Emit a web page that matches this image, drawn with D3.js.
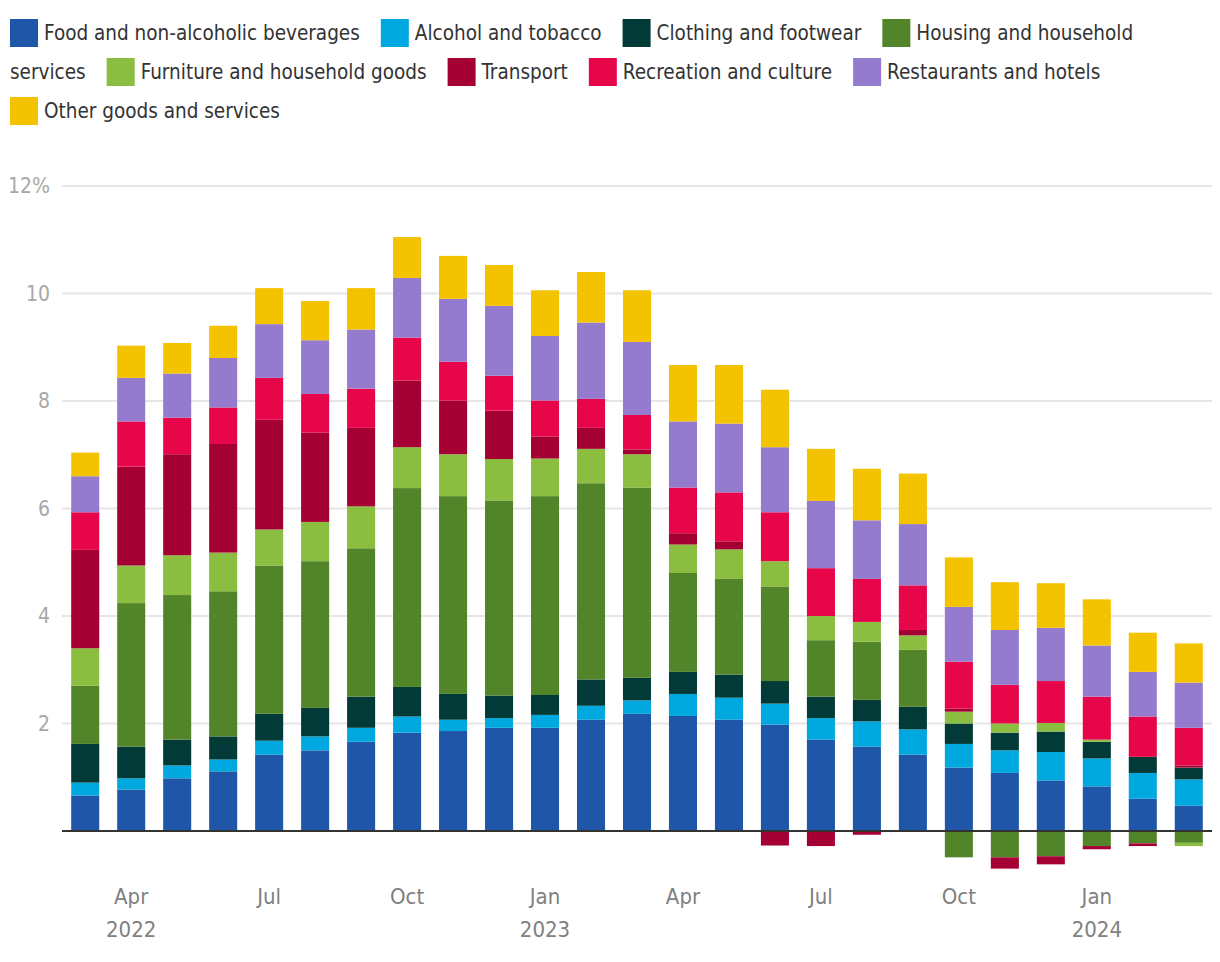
<!DOCTYPE html>
<html>
<head>
<meta charset="utf-8">
<script src="https://cdn.jsdelivr.net/npm/d3@7"></script>
<style>
  html, body { margin: 0; padding: 0; background: #fff; }
  body { width: 1220px; height: 962px; overflow: hidden; }
  svg { display: block; font-family: "Liberation Sans Narrow", "DejaVu Sans Condensed", "Roboto", sans-serif; }
</style>
</head>
<body>
<svg id="chart" width="1220" height="962"></svg>
<script>
const months = ["2022-03","2022-04","2022-05","2022-06","2022-07","2022-08","2022-09","2022-10","2022-11","2022-12",
                "2023-01","2023-02","2023-03","2023-04","2023-05","2023-06","2023-07","2023-08","2023-09","2023-10",
                "2023-11","2023-12","2024-01","2024-02","2024-03"];

const seriesNames = ["Food and non-alcoholic beverages","Alcohol and tobacco","Clothing and footwear",
  "Housing and household services","Furniture and household goods","Transport","Recreation and culture",
  "Restaurants and hotels","Other goods and services"];
const seriesColors = ["#1f56a8","#00a8e0","#013a36","#52852a","#8bbd40","#a50034","#e8064a","#957bcd","#f4c300"];

const food        = [0.66,0.77,0.98,1.11,1.42,1.50,1.66,1.83,1.86,1.92,1.92,2.07,2.18,2.14,2.07,1.98,1.70,1.57,1.42,1.18,1.08,0.94,0.83,0.60,0.47];
const alcohol     = [0.24,0.21,0.24,0.22,0.26,0.26,0.26,0.30,0.21,0.18,0.24,0.26,0.25,0.41,0.41,0.39,0.40,0.47,0.47,0.44,0.42,0.53,0.52,0.48,0.49];
const clothing    = [0.72,0.59,0.48,0.43,0.50,0.53,0.58,0.55,0.48,0.42,0.37,0.49,0.42,0.41,0.43,0.42,0.40,0.40,0.42,0.38,0.33,0.38,0.31,0.30,0.22];
const housing     = [1.08,2.67,2.69,2.70,2.76,2.73,2.76,3.70,3.68,3.63,3.70,3.65,3.54,1.84,1.78,1.76,1.05,1.08,1.06,-0.49,-0.49,-0.47,-0.28,-0.23,-0.22];
const furniture   = [0.70,0.70,0.74,0.72,0.67,0.73,0.78,0.76,0.78,0.77,0.70,0.64,0.62,0.53,0.55,0.47,0.45,0.37,0.27,0.22,0.17,0.16,0.04,0.00,-0.06];
const transport   = [1.83,1.84,1.88,2.02,2.04,1.66,1.46,1.24,1.00,0.90,0.41,0.39,0.09,0.21,0.15,-0.27,-0.28,-0.07,0.10,0.06,-0.21,-0.15,-0.06,-0.05,0.04];
const recreation  = [0.70,0.84,0.68,0.68,0.78,0.72,0.73,0.80,0.72,0.65,0.67,0.54,0.64,0.85,0.91,0.91,0.89,0.80,0.83,0.87,0.72,0.78,0.80,0.75,0.70];
const restaurants = [0.67,0.81,0.82,0.92,1.00,1.00,1.10,1.11,1.17,1.30,1.20,1.42,1.36,1.23,1.28,1.21,1.25,1.09,1.14,1.02,1.02,0.99,0.95,0.83,0.84];
const other       = [0.44,0.60,0.57,0.60,0.67,0.73,0.77,0.76,0.80,0.76,0.85,0.94,0.96,1.05,1.09,1.07,0.97,0.96,0.94,0.92,0.89,0.83,0.86,0.73,0.73];

const yTicks = [2,4,6,8,10,12];
const yTickLabels = ["2","4","6","8","10","12%"];
const xTickMonths = ["2022-04","2022-07","2022-10","2023-01","2023-04","2023-07","2023-10","2024-01"];
const xTickLabels = [["Apr","2022"],["Jul"],["Oct"],["Jan","2023"],["Apr"],["Jul"],["Oct"],["Jan","2024"]];

const seriesValues = [food, alcohol, clothing, housing, furniture, transport, recreation, restaurants, other];

const svg = d3.select("#chart");

// ---------- legend (flowing, wraps words like inline text) ----------
const lg = svg.append("g").attr("font-size", 20.5).attr("fill", "#333");
const legLeft = 10, legRight = 1200, rowH = 39, sw = 28, swGap = 6, itemGap = 21;
let cx = legLeft, rowTop = 19;
const measure = s => {
  const t = lg.append("text").text(s);
  const w = t.node().getComputedTextLength();
  t.remove();
  return w;
};
const spaceW = measure("a b") - measure("ab");
function putText(s, x0, top) {
  lg.append("text").attr("x", x0).attr("y", top + sw / 2).attr("dy", "0.36em").text(s);
}
seriesNames.forEach((name, i) => {
  const words = name.split(" ");
  if (cx > legLeft && cx + sw + swGap + measure(words[0]) > legRight) { cx = legLeft; rowTop += rowH; }
  lg.append("rect").attr("x", cx).attr("y", rowTop).attr("width", sw).attr("height", sw).attr("fill", seriesColors[i]);
  cx += sw + swGap;
  let line = [], startX = cx;
  words.forEach(w => {
    const trial = line.concat([w]).join(" ");
    if (line.length && startX + measure(trial) > legRight) {
      putText(line.join(" "), startX, rowTop);
      rowTop += rowH; startX = legLeft; line = [w];
    } else line.push(w);
  });
  const s = line.join(" ");
  putText(s, startX, rowTop);
  cx = startX + measure(s) + itemGap;
});

// ---------- data ----------
const rows = months.map((m, j) => {
  const r = { month: m };
  seriesNames.forEach((n, i) => r[n] = seriesValues[i][j]);
  return r;
});
const stacked = d3.stack().keys(seriesNames).offset(d3.stackOffsetDiverging)(rows);

const x = d3.scaleBand().domain(months).range([62, 1212]).paddingInner(0.39).paddingOuter(0.2);
const y = d3.scaleLinear().domain([0, 12]).range([831, 186]);

// gridlines
svg.append("g").selectAll("line").data(yTicks).join("line")
  .attr("x1", 62).attr("x2", 1212)
  .attr("y1", d => y(d)).attr("y2", d => y(d))
  .attr("stroke", "#e6e6e6").attr("stroke-width", 2);

// y labels
svg.append("g").selectAll("text").data(yTicks).join("text")
  .attr("x", 50).attr("y", d => y(d)).attr("dy", "0.35em")
  .attr("text-anchor", "end")
  .attr("font-size", 21).attr("fill", "#a8a8a8")
  .text((d, i) => yTickLabels[i]);

// bars
svg.append("g").selectAll("g").data(stacked).join("g")
  .attr("fill", (d, i) => seriesColors[i])
  .selectAll("rect").data(d => d).join("rect")
  .attr("x", d => x(d.data.month))
  .attr("width", x.bandwidth())
  .attr("y", d => y(Math.max(d[0], d[1])))
  .attr("height", d => Math.abs(y(d[0]) - y(d[1])));

// zero line
svg.append("line").attr("x1", 62).attr("x2", 1212).attr("y1", y(0)).attr("y2", y(0))
  .attr("stroke", "#333").attr("stroke-width", 2);

// x labels
const xl = svg.append("g").selectAll("text").data(xTickMonths).join("text")
  .attr("x", d => x(d) + x.bandwidth() / 2)
  .attr("y", 904)
  .attr("text-anchor", "middle")
  .attr("font-size", 22).attr("fill", "#808080");
xl.each(function(d, i) {
  const t = d3.select(this);
  xTickLabels[i].forEach((s, k) => {
    t.append("tspan").attr("x", x(d) + x.bandwidth() / 2).attr("dy", k === 0 ? 0 : 33).text(s);
  });
});
</script>
</body>
</html>
